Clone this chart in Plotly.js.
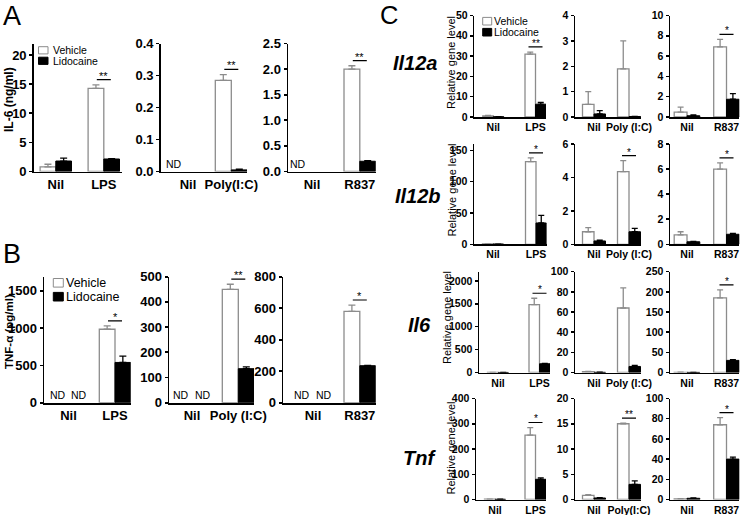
<!DOCTYPE html>
<html><head><meta charset="utf-8">
<script src="https://cdn.plot.ly/plotly-3.0.1.min.js"></script>
<style>html,body{margin:0;padding:0;background:#fff}#chart{width:746px;height:515px}</style>
</head><body><div id="chart"></div>
<script>
// ================= DATA =================
const seriesNames = ["Vehicle", "Lidocaine"];
const nilLabel = "Nil";
const stimA = ["LPS", "Poly(I:C)", "R837"];
const stimB = ["LPS", "Poly (I:C)", "R837"];
const stimC = ["LPS", "Poly (I:C)", "R837"];
const stimCTnf = ["LPS", "Poly(I:C)", "R837"];
const genes = ["Il12a", "Il12b", "Il6", "Tnf"];
const titleA = "IL-6 (ng/ml)";
const titleB = "TNF-α (pg/ml)";
const titleC = "Relative gene level";
const panelLetters = ["A", "B", "C"];
const ndText = "ND";

// Panel A: IL-6 (ng/ml), [Nil, stimulus]; null = not detected
const il6Veh = [[0.8, 14.3], [null, 0.285], [null, 2.0]];
const il6VehErr = [[0.45, 0.6], [0, 0.018], [0, 0.065]];
const il6Lido = [[1.8, 2.15], [null, 0.005], [null, 0.2]];
const il6LidoErr = [[0.5, 0.05], [0, 0.002], [0, 0.01]];
const il6Sig = ["**", "**", "**"];
const il6ND = [0, 1, 1];      // number of ND labels under Nil

// Panel B: TNF-α (pg/ml)
const tnfVeh = [[null, 985], [null, 450], [null, 580]];
const tnfVehErr = [[0, 45], [0, 20], [0, 40]];
const tnfLido = [[null, 540], [null, 135], [null, 235]];
const tnfLidoErr = [[0, 85], [0, 7], [0, 2]];
const tnfSig = ["*", "**", "*"];
const tnfND = [2, 2, 2];

// Panel C: relative gene level, per gene, per stimulus [Nil, stimulus]
const il12aVeh = [[0.5, 31.0], [0.5, 1.9], [0.48, 6.9]];
const il12aVehErr = [[0.3, 1.0], [0.5, 1.1], [0.5, 0.75]];
const il12aLido = [[0.1, 6.3], [0.12, 0.02], [0.12, 1.75]];
const il12aLidoErr = [[0.05, 0.9], [0.13, 0], [0.08, 0.55]];
const il12aSig = ["**", "", "*"];

const il12bVeh = [[0.5, 132], [0.75, 4.35], [0.75, 6.0]];
const il12bVehErr = [[0.3, 6], [0.25, 0.65], [0.25, 0.5]];
const il12bLido = [[0.3, 34], [0.2, 0.75], [0.2, 0.8]];
const il12bLidoErr = [[0.1, 12], [0.05, 0.2], [0.03, 0.07]];
const il12bSig = ["*", "*", "*"];

const il6gVeh = [[1, 1480], [0.8, 64], [0.5, 185]];
const il6gVehErr = [[0.5, 140], [0.2, 20], [0.2, 20]];
const il6gLido = [[1, 190], [0.2, 6], [0.3, 30]];
const il6gLidoErr = [[0.5, 10], [0.1, 1], [0.1, 2]];
const il6gSig = ["*", "", "*"];

const tnfgVeh = [[1, 255], [0.8, 15.0], [0.7, 74]];
const tnfgVehErr = [[0.3, 30], [0.15, 0.1], [0.2, 7]];
const tnfgLido = [[1, 80], [0.3, 3.0], [1.2, 40]];
const tnfgLidoErr = [[0.3, 6], [0.05, 0.7], [0.3, 2]];
const tnfgSig = ["*", "**", "*"];

// ================= LAYOUT / STYLE =================
const W = 746, H = 515;
const FONT = "Liberation Sans, Arial, Helvetica, sans-serif";
const VEH_LINE = "#8c8c8c";
// geometry in px: [left, right, zeroY, topY, nilCenter, stimCenter, barW, yMax, dtick, fmt, tickSize]
const geomA = [
  [34, 121.7, 171.5, 43.5, 55.8, 103.8, 15.7, 22, 5, "", 13],
  [161, 247, 171.5, 43.5, 188, 231.3, 16, 0.4, 0.1, ".1f", 13],
  [288.3, 375.7, 171.5, 43.5, 312, 359.8, 15.8, 2.5, 0.5, ".1f", 13]
];
const geomB = [
  [44.3, 130.7, 402.7, 276.7, 68.5, 115, 15.7, 1690, 500, "", 13],
  [169.3, 254, 402.7, 276.7, 192, 238.3, 16, 500, 100, "", 13],
  [283.3, 375.7, 402.7, 276.7, 313, 359.8, 15.8, 800, 200, "", 13]
];
const cZero = [117, 244.3, 372.5, 499.5];
const cTop = [15.5, 144, 271.7, 398.5];
const cLeft1 = [474.3, 474, 479, 476];
const cRight1 = [546, 546.5, 550, 546];
const cYMax = [[50, 4, 10], [160, 6, 8], [2200, 100, 250], [400, 20, 100]];
const cDtick = [[10, 1, 2], [50, 2, 2], [500, 20, 50], [100, 5, 20]];

const traces = [], shapes = [], annotations = [];
const layout = {
  width: W, height: H, margin: {l: 0, r: 0, t: 0, b: 0},
  paper_bgcolor: "#fff", plot_bgcolor: "rgba(0,0,0,0)",
  showlegend: false, barmode: "overlay",
  font: {family: FONT, color: "#000"},
  shapes: shapes, annotations: annotations
};
let idx = 0;

function addSub(cats, veh, vehErr, lido, lidoErr, sig, nd, g, opts) {
  idx++;
  const xa = "xaxis" + (idx === 1 ? "" : idx), ya = "yaxis" + (idx === 1 ? "" : idx);
  const xr = "x" + (idx === 1 ? "" : idx), yr = "y" + (idx === 1 ? "" : idx);
  const [L, R, Z, T, nilC, stimC, bw, yMax, dtick, fmt, tsz] = g;
  const unit = stimC - nilC;
  const wU = bw / unit;
  layout[xa] = {
    domain: [L / W, R / W], anchor: yr, type: "category",
    range: [(L - nilC) / unit, 1 + (R - stimC) / unit],
    showline: true, linecolor: "#000", linewidth: opts.lw, ticks: "",
    showgrid: false, zeroline: false, tickangle: 0, fixedrange: true,
    tickfont: {family: FONT, size: tsz, weight: "bold", color: "#000"}
  };
  layout[ya] = {
    domain: [1 - Z / H, 1 - T / H], anchor: xr,
    range: [0, yMax], dtick: dtick, tick0: 0, tickformat: fmt,
    showline: true, linecolor: "#000", linewidth: opts.lw,
    ticks: "outside", ticklen: 3, tickwidth: opts.lw, tickcolor: "#000",
    showgrid: false, zeroline: false, fixedrange: true,
    tickfont: {family: FONT, size: tsz, weight: "bold", color: "#000"}
  };
  traces.push({
    type: "bar", x: cats, y: veh, name: seriesNames[0], xaxis: xr, yaxis: yr,
    width: [wU, wU], offset: [-wU, -wU],
    marker: {color: "#fff", line: {color: VEH_LINE, width: 1.3}},
    error_y: {type: "data", symmetric: false, array: vehErr, arrayminus: [0, 0],
      color: VEH_LINE, thickness: 1.3, width: opts.cap}
  });
  traces.push({
    type: "bar", x: cats, y: lido, name: seriesNames[1], xaxis: xr, yaxis: yr,
    width: [wU, wU], offset: [0, 0],
    marker: {color: "#000", line: {color: "#000", width: 1}},
    error_y: {type: "data", symmetric: false, array: lidoErr, arrayminus: [0, 0],
      color: "#000", thickness: 1.3, width: opts.cap}
  });
  if (sig) {
    const top = Math.max((veh[1] || 0) + (vehErr[1] || 0), (lido[1] || 0) + (lidoErr[1] || 0));
    const ly = top + opts.sigGap * yMax;
    const half = opts.sigHalf / unit;
    shapes.push({type: "line", xref: xr, yref: yr, x0: 1 - half, x1: 1 + half, y0: ly, y1: ly,
      line: {color: "#000", width: 1.2}});
    annotations.push({xref: xr, yref: yr, x: 1, y: ly, text: sig, showarrow: false,
      xanchor: "center", yanchor: "bottom", yshift: -4,
      font: {family: FONT, size: opts.starSize, color: "#000"}});
  }
  if (nd === 1) {
    annotations.push({xref: xr, yref: yr, x: -wU * 0.9, y: 0, text: ndText, showarrow: false,
      xanchor: "center", yanchor: "bottom", font: {family: FONT, size: 10.5, color: "#000"}});
  } else if (nd === 2) {
    [-wU / 2 - 0.06, wU / 2 + 0.06].forEach(function (xx) {
      annotations.push({xref: xr, yref: yr, x: xx, y: 0, text: ndText, showarrow: false,
        xanchor: "center", yanchor: "bottom", font: {family: FONT, size: 10.5, color: "#000"}});
    });
  }
}

const optsAB = {lw: 1.8, cap: 3.5, sigGap: 0.04, sigHalf: 7, starSize: 11};
const optsC = {lw: 1.5, cap: 3, sigGap: 0.05, sigHalf: 7, starSize: 10};

for (let i = 0; i < 3; i++) {
  addSub([nilLabel, stimA[i]], il6Veh[i], il6VehErr[i], il6Lido[i], il6LidoErr[i], il6Sig[i], il6ND[i], geomA[i], optsAB);
}
for (let i = 0; i < 3; i++) {
  addSub([nilLabel, stimB[i]], tnfVeh[i], tnfVehErr[i], tnfLido[i], tnfLidoErr[i], tnfSig[i], tnfND[i], geomB[i], optsAB);
}
const cData = [
  [il12aVeh, il12aVehErr, il12aLido, il12aLidoErr, il12aSig, stimC],
  [il12bVeh, il12bVehErr, il12bLido, il12bLidoErr, il12bSig, stimC],
  [il6gVeh, il6gVehErr, il6gLido, il6gLidoErr, il6gSig, stimC],
  [tnfgVeh, tnfgVehErr, tnfgLido, tnfgLidoErr, tnfgSig, stimCTnf]
];
for (let r = 0; r < 4; r++) {
  const [v, ve, l, le, s, st] = cData[r];
  const cols = [
    [cLeft1[r], cRight1[r], cZero[r], cTop[r], cLeft1[r] + 19, cRight1[r] - 10.5, 10.5],
    [575, 641, cZero[r], cTop[r], 594, 629, 11.5],
    [670, 739.3, cZero[r], cTop[r], 687, 726.5, 12.8]
  ];
  for (let c = 0; c < 3; c++) {
    const g = cols[c].concat([cYMax[r][c], cDtick[r][c], "", 10.5]);
    addSub([nilLabel, st[c]], v[c], ve[c], l[c], le[c], s[c], 0, g, optsC);
  }
}

// manual legends
function legend(x0, x1, ys, hh, tx, size) {
  const fills = ["#fff", "#000"], lines = [VEH_LINE, "#000"];
  ys.forEach(function (yc, k) {
    shapes.push({type: "rect", xref: "paper", yref: "paper",
      x0: x0 / W, x1: x1 / W, y0: 1 - (yc + hh) / H, y1: 1 - (yc - hh) / H,
      fillcolor: fills[k], line: {color: lines[k], width: 1}});
    annotations.push({xref: "paper", yref: "paper", x: tx / W, y: 1 - yc / H, text: seriesNames[k],
      showarrow: false, xanchor: "left", yanchor: "middle",
      font: {family: FONT, size: size, color: "#000"}});
  });
}
legend(38.5, 48, [50.3, 60.8], 3.6, 51, 10.5);
legend(53.3, 63.3, [282.8, 296.7], 4.3, 64, 12.5);
legend(482.7, 491.7, [21.2, 32.2], 3.8, 492, 10.5);

// panel letters
[[1, 16, 27, "A"], [1, 254, 27, "B"], [378, 15, 25.5, "C"]].forEach(function (p, k) {
  annotations.push({xref: "paper", yref: "paper", x: p[0] / W, y: 1 - p[1] / H, text: panelLetters[k],
    showarrow: false, xanchor: "left", yanchor: "middle", font: {family: FONT, size: p[2], color: "#000"}});
});
// y titles
annotations.push({xref: "paper", yref: "paper", x: 9 / W, y: 1 - 100 / H, text: titleA, textangle: -90,
  showarrow: false, xanchor: "center", yanchor: "middle",
  font: {family: FONT, size: 12, weight: "bold", color: "#000"}});
annotations.push({xref: "paper", yref: "paper", x: 9 / W, y: 1 - 332 / H, text: titleB, textangle: -90,
  showarrow: false, xanchor: "center", yanchor: "middle",
  font: {family: FONT, size: 11.5, weight: "bold", color: "#000"}});
const cTitleY = [62.5, 190, 317, 447.5];
const cTitleX = [451.5, 451.5, 447, 450];
const geneY = [63, 196, 325, 458];
const geneX = [415, 417.5, 419, 419];
for (let r = 0; r < 4; r++) {
  annotations.push({xref: "paper", yref: "paper", x: cTitleX[r] / W, y: 1 - cTitleY[r] / H, text: titleC,
    textangle: -90, showarrow: false, xanchor: "center", yanchor: "middle",
    font: {family: FONT, size: 11, color: "#000"}});
  annotations.push({xref: "paper", yref: "paper", x: geneX[r] / W, y: 1 - geneY[r] / H, text: genes[r],
    showarrow: false, xanchor: "center", yanchor: "middle",
    font: {family: FONT, size: 20, weight: "bold", style: "italic", color: "#000"}});
}

Plotly.newPlot("chart", traces, layout, {displayModeBar: false, staticPlot: true});
</script>
</body></html>
